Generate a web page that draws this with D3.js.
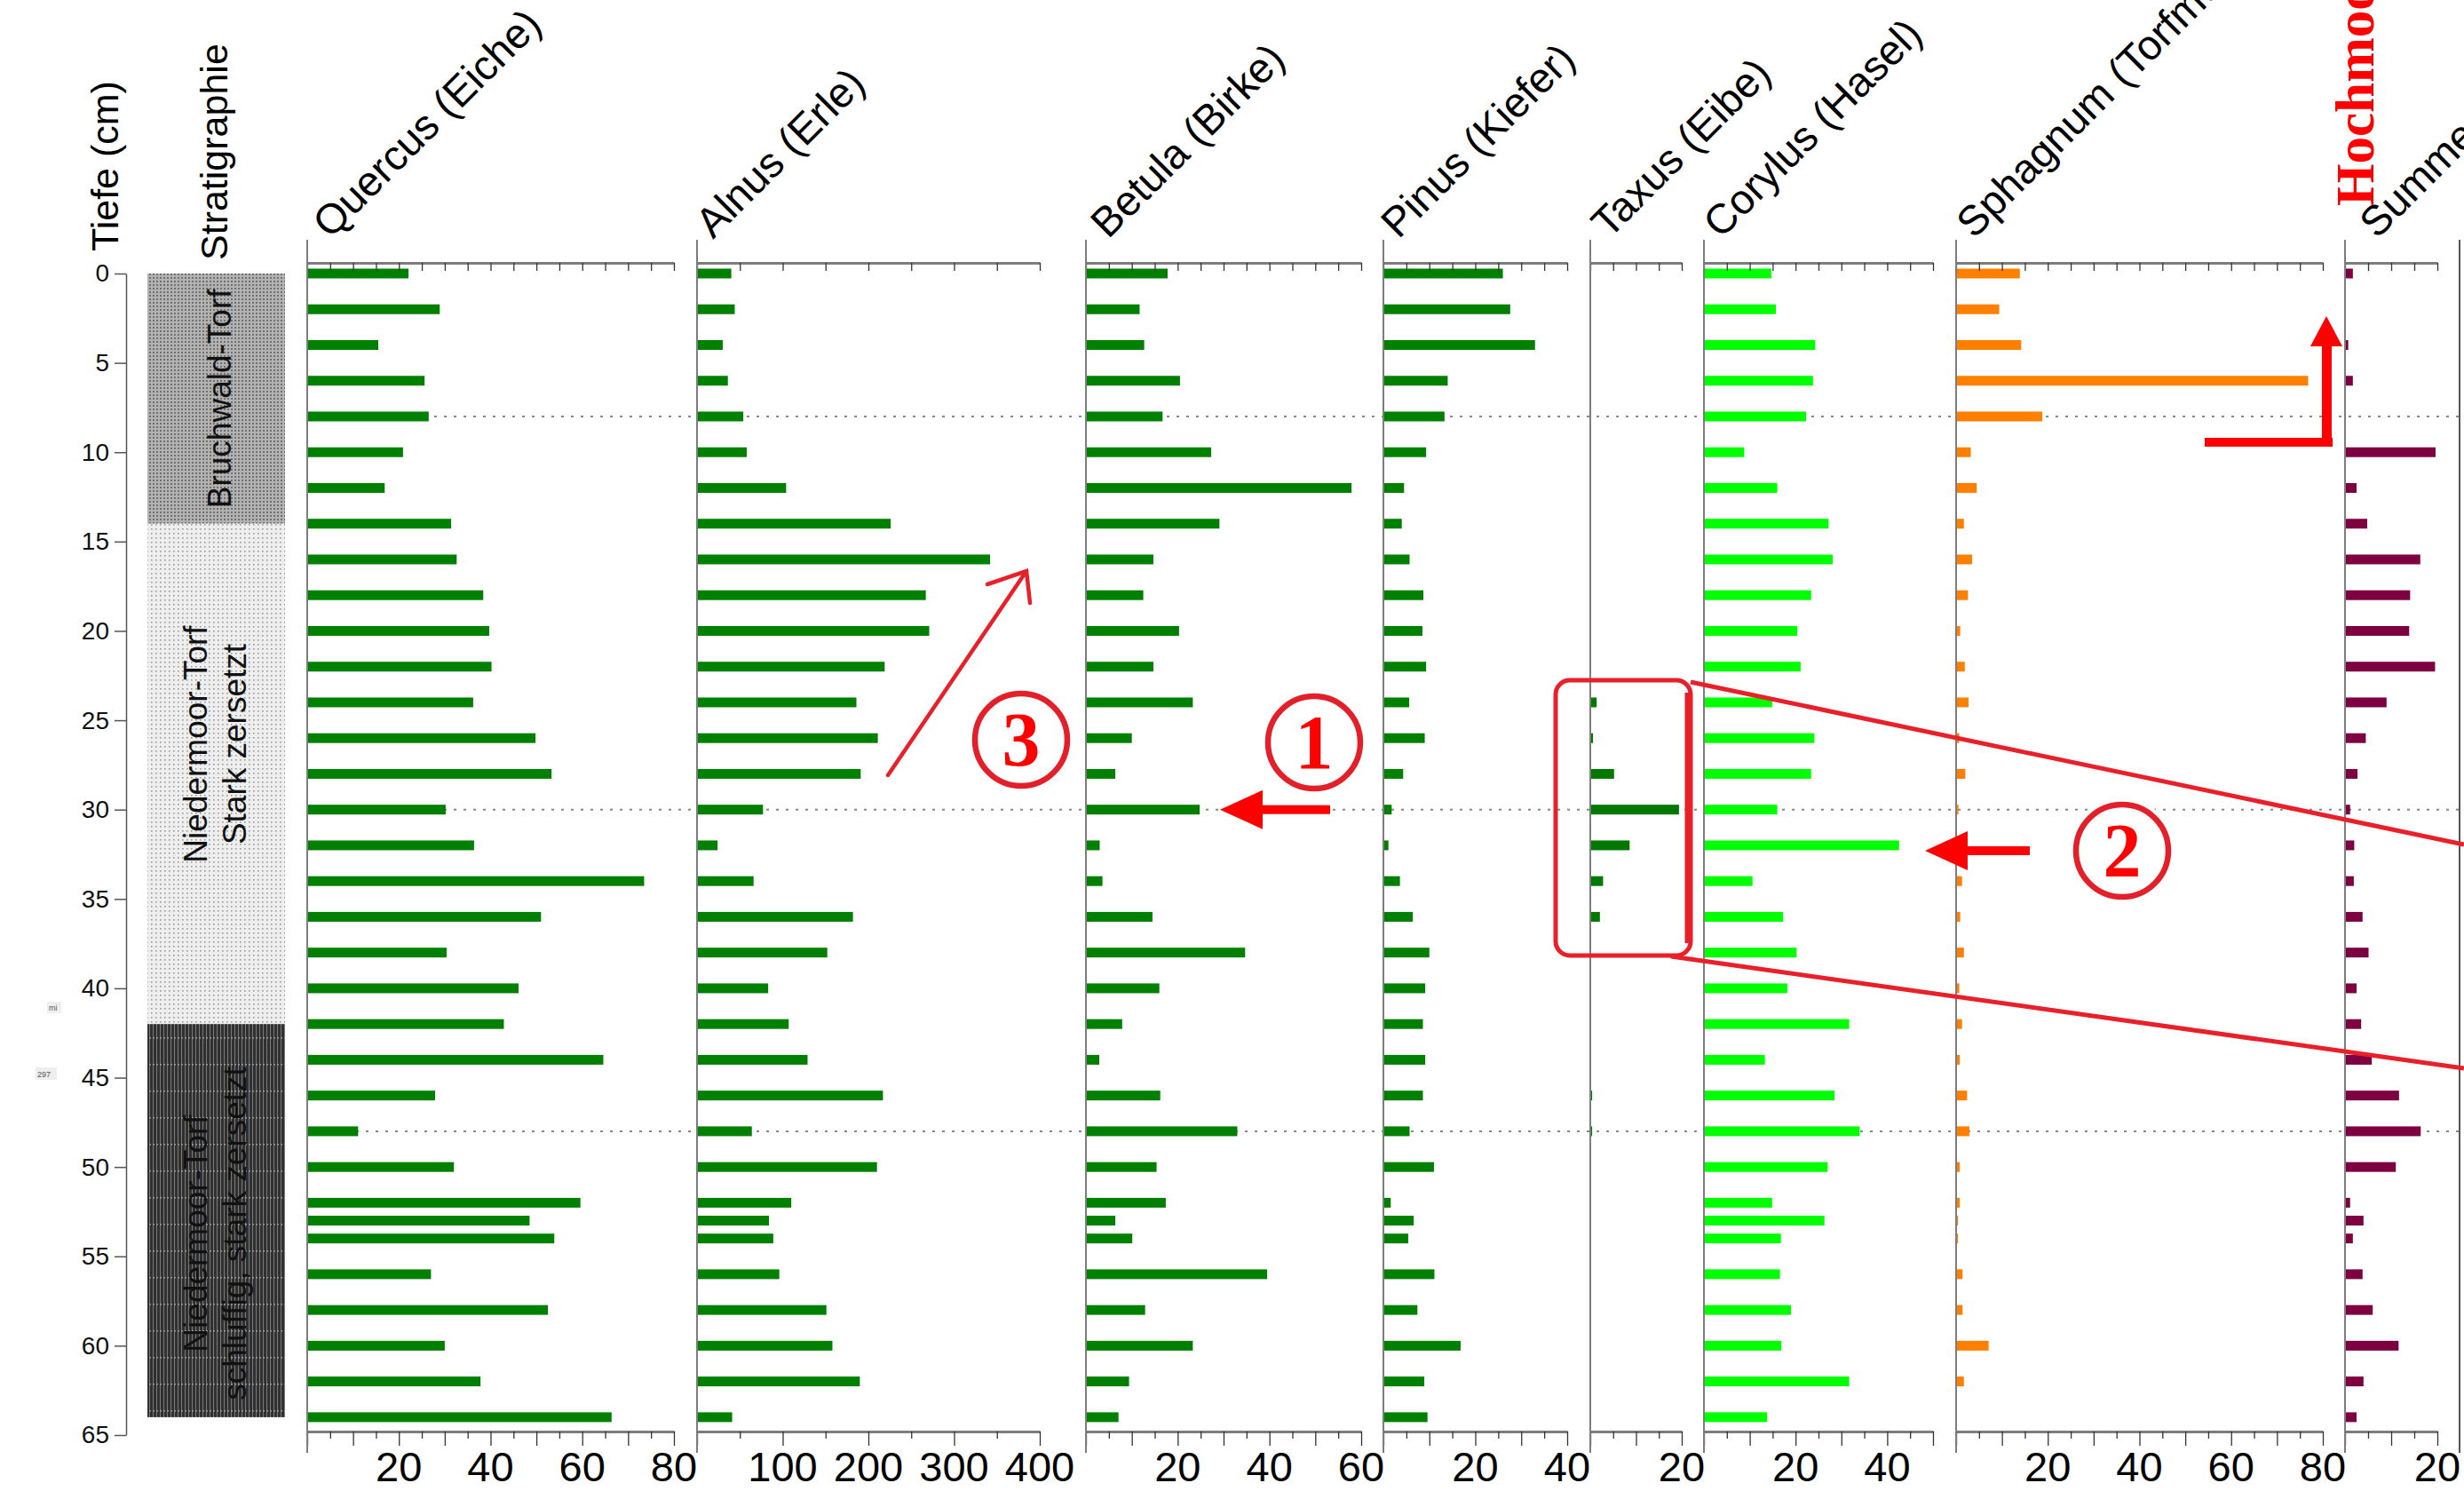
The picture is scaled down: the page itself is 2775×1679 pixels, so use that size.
<!DOCTYPE html>
<html>
<head>
<meta charset="utf-8">
<script src="https://cdn.jsdelivr.net/npm/d3@7"></script>
<style>
  body { margin: 0; background: #fff; }
  text { font-family: "Liberation Sans", Arial, sans-serif; }
</style>
</head>
<body>
<script>
const width = 2775;
const height = 1679;

// Probentiefen (cm)
const depths = [0, 2, 4, 6, 8, 10, 12, 14, 16, 18, 20, 22, 24, 26, 28, 30, 32, 34, 36, 38,
  40, 42, 44, 46, 48, 50, 52, 53, 54, 56, 58, 60, 62, 64];

// Pollenwerte je Taxon, in der Reihenfolge der Tiefen
const quercus = [22.1, 28.9, 15.5, 25.6, 26.5, 20.9, 16.9, 31.4, 32.6, 38.4, 39.7, 40.2, 36.2, 49.8, 53.3,
  30.2, 36.4, 73.5, 51.0, 30.4, 46.1, 42.9, 64.6, 27.9, 11.1, 32.0, 59.6, 48.5, 53.9, 27.0, 52.5, 30.0, 37.8, 66.4];
const alnus = [40, 44, 30, 36, 54, 58, 104, 226, 342, 267, 271, 219, 186, 211, 191,
  77, 24, 66, 182, 152, 83, 107, 129, 217, 64, 210, 110, 84, 89, 96, 151, 158, 190, 41];
const betula = [17.8, 11.7, 12.7, 20.5, 16.7, 27.3, 57.9, 29.1, 14.7, 12.5, 20.3, 14.7, 23.3, 10.0, 6.4,
  24.8, 3.0, 3.6, 14.5, 34.7, 16.0, 7.9, 2.9, 16.2, 33.0, 15.4, 17.4, 6.4, 10.1, 39.5, 12.9, 23.3, 9.4, 7.1];
const pinus = [26.0, 27.6, 33.0, 14.0, 13.3, 9.3, 4.5, 4.0, 5.7, 8.7, 8.5, 9.3, 5.6, 9.0, 4.3,
  1.8, 1.1, 3.6, 6.4, 10.0, 9.1, 8.6, 9.1, 8.6, 5.7, 11.0, 1.6, 6.6, 5.4, 11.1, 7.4, 16.8, 8.9, 9.6];
const taxus = [0, 0, 0, 0, 0, 0, 0, 0, 0, 0, 0, 0, 1.4, 0.6, 5.2,
  19.4, 8.6, 2.8, 2.1, 0, 0, 0, 0, 0.4, 0.4, 0, 0, 0, 0, 0, 0, 0, 0, 0];
const corylus = [14.7, 15.7, 24.3, 23.8, 22.3, 8.8, 16.0, 27.2, 28.1, 23.4, 20.4, 21.1, 14.9, 24.1, 23.4,
  16.0, 42.6, 10.6, 17.3, 20.2, 18.2, 31.7, 13.3, 28.5, 34.0, 27.0, 14.9, 26.3, 16.8, 16.6, 19.0, 16.9, 31.7, 13.8];
const sphagnum = [13.9, 9.4, 14.2, 76.8, 18.8, 3.2, 4.5, 1.7, 3.5, 2.6, 0.9, 1.9, 2.7, 0.7, 2.0,
  0.5, 0.8, 1.3, 0.9, 1.7, 0.7, 1.3, 0.8, 2.4, 2.9, 0.8, 0.8, 0.4, 0.4, 1.4, 1.4, 7.1, 1.7, 0];
const summe = [1.7, 0, 0.7, 1.7, 0, 19.6, 2.5, 4.8, 16.3, 14.1, 13.9, 19.5, 9.0, 4.5, 2.7,
  1.1, 2.0, 1.9, 3.8, 5.1, 2.5, 3.5, 5.8, 11.7, 16.4, 11.0, 1.1, 4.0, 1.7, 3.8, 6.0, 11.6, 4.0, 2.5];

const taxaNames = ["Quercus (Eiche)", "Alnus (Erle)", "Betula (Birke)", "Pinus (Kiefer)",
  "Taxus (Eibe)", "Corylus (Hasel)", "Sphagnum (Torfmoos)", "Summe"];
const axisMax = [80, 400, 60, 40, 20, 50, 80, 20];
const tickStep = [5, 50, 5, 5, 5, 5, 5, 5];
const bottomLabels = [[20, 40, 60, 80], [100, 200, 300, 400], [20, 40, 60], [20, 40], [20], [20, 40], [20, 40, 60, 80], [20]];

// Tiefenachse und Stratigraphie
const depthTicks = [0, 5, 10, 15, 20, 25, 30, 35, 40, 45, 50, 55, 60, 65];
const strataTop = [0, 14, 42];
const strataBottom = [14, 42, 64];
const strataLines = [["Bruchwald-Torf"], ["Niedermoor-Torf", "Stark zersetzt"], ["Niedermoor-Torf", "schluffig, stark zersetzt"]];
const markerDepths = [8, 30, 48];

// Layout (Pixel)
const panelX0 = [346, 785, 1223, 1558, 1791, 1919, 2203, 2641];
const panelX1 = [759, 1171, 1533, 1765, 1894, 2177, 2616, 2745];
const titleOffset = [26, 18, 25, 17, 21, 19, 20, 36];
const barColors = ['#008000', '#008000', '#008000', '#008000', '#007800', '#00ff00', '#ff8000', '#7d0041'];
const series = [quercus, alnus, betula, pinus, taxus, corylus, sphagnum, summe];

const topAxisY = 296;
const bottomAxisY = 1612;
const barH = 11;

let svg = d3.select('body')
    .append('svg')
    .attr('width', width)
    .attr('height', height);

svg.append('rect').attr('width', width).attr('height', height).attr('fill', '#fff');

let yScale = d3.scaleLinear()
    .domain([0, 65])
    .range([308, 1616]);

// Schraffuren
const defs = svg.append('defs');
let p1 = defs.append('pattern').attr('id', 'pat0').attr('width', 4).attr('height', 4).attr('patternUnits', 'userSpaceOnUse');
p1.append('rect').attr('width', 4).attr('height', 4).attr('fill', '#b2b2b2');
p1.append('rect').attr('width', 2).attr('height', 2).attr('fill', '#707070');
let p2 = defs.append('pattern').attr('id', 'pat1').attr('width', 5).attr('height', 5).attr('patternUnits', 'userSpaceOnUse');
p2.append('rect').attr('width', 5).attr('height', 5).attr('fill', '#eeeeee');
p2.append('rect').attr('width', 1.6).attr('height', 1.6).attr('fill', '#9a9a9a');
let p3 = defs.append('pattern').attr('id', 'pat2').attr('width', 4).attr('height', 30).attr('patternUnits', 'userSpaceOnUse');
p3.append('rect').attr('width', 4).attr('height', 30).attr('fill', '#303030');
p3.append('rect').attr('width', 1).attr('height', 30).attr('fill', '#7a7a7a');
p3.append('rect').attr('y', 28).attr('width', 2).attr('height', 1.5).attr('fill', '#9a9a9a');

// gestrichelte Markierungslinien (hinter den Balken)
svg.append('g')
    .selectAll('line')
    .data(markerDepths)
    .join('line')
    .attr('x1', panelX0[0])
    .attr('x2', width)
    .attr('y1', d => yScale(d))
    .attr('y2', d => yScale(d))
    .attr('stroke', '#888')
    .attr('stroke-width', 2)
    .attr('stroke-dasharray', '3,8');

// Tiefenachse
svg.append('g')
    .attr('transform', 'translate(142,0)')
    .call(d3.axisLeft(yScale).tickValues(depthTicks).tickSize(13).tickSizeOuter(0).tickPadding(6))
    .call(g => g.selectAll('text').attr('font-size', 28).attr('fill', '#111').style('font-family', '"Liberation Sans", Arial, sans-serif'))
    .call(g => g.selectAll('line, path').attr('stroke', '#555').attr('stroke-width', 1.5));

svg.append('text')
    .attr('transform', 'translate(133,283) rotate(-90)')
    .attr('font-size', 43)
    .text('Tiefe (cm)');
svg.append('text')
    .attr('transform', 'translate(256,293) rotate(-90)')
    .attr('font-size', 43)
    .text('Stratigraphie');

// Stratigraphie-Säule
let strat = svg.append('g');
strataTop.forEach((top, i) => {
    strat.append('rect')
        .attr('x', 166)
        .attr('y', yScale(top))
        .attr('width', 155)
        .attr('height', yScale(strataBottom[i]) - yScale(top))
        .attr('fill', `url(#pat${i})`);
    let mid = (yScale(top) + yScale(strataBottom[i])) / 2;
    let lines = strataLines[i];
    let xs = lines.length === 1 ? [260] : [233, 277];
    let cy = i === 1 ? 838 : (i === 2 ? 1389 : mid);
    lines.forEach((t, j) => {
        strat.append('text')
            .attr('transform', `translate(${xs[j]},${cy}) rotate(-90)`)
            .attr('text-anchor', 'middle')
            .attr('font-size', 37)
            .attr('fill', '#111')
            .text(t);
    });
});

// Diagramme
taxaNames.forEach((name, i) => {
    let x = d3.scaleLinear().domain([0, axisMax[i]]).range([panelX0[i], panelX1[i]]);
    let g = svg.append('g').classed('panel', true);
    let ticks = d3.range(0, axisMax[i] + 1e-9, tickStep[i]);

    g.selectAll('rect.bar')
        .data(depths.map((d, k) => ({d: d, v: series[i][k]})).filter(o => o.v > 0))
        .join('rect')
        .classed('bar', true)
        .attr('x', x(0))
        .attr('y', o => yScale(o.d) - barH / 2)
        .attr('width', o => x(o.v) - x(0))
        .attr('height', barH)
        .attr('fill', barColors[i]);

    // obere Achse
    g.append('g')
        .attr('transform', `translate(0,${topAxisY})`)
        .call(d3.axisBottom(x).tickValues(ticks).tickSize(9).tickSizeOuter(0).tickFormat(''))
        .call(a => a.select('.domain').attr('stroke', '#7d7d7d').attr('stroke-width', 3))
        .call(a => a.selectAll('.tick line').attr('stroke', '#333').attr('stroke-width', 1.3));

    // untere Achse
    let major = i === 1 ? 100 : 10;
    g.append('g')
        .attr('transform', `translate(0,${bottomAxisY})`)
        .call(d3.axisBottom(x).tickValues(ticks).tickSize(8).tickSizeOuter(0).tickFormat(''))
        .call(a => a.select('.domain').attr('stroke', '#7d7d7d').attr('stroke-width', 3))
        .call(a => a.selectAll('.tick line')
            .attr('stroke', '#333').attr('stroke-width', 1.3)
            .attr('y2', d => (d % major === 0 ? 16 : 8)));

    g.selectAll('text.lab')
        .data(bottomLabels[i])
        .join('text')
        .classed('lab', true)
        .attr('x', d => x(d))
        .attr('y', 1668)
        .attr('text-anchor', 'middle')
        .attr('font-size', 47)
        .text(d => d);

    // linke Linie des Diagramms
    g.append('line')
        .attr('x1', x(0)).attr('x2', x(0))
        .attr('y1', 270).attr('y2', 1636)
        .attr('stroke', '#7d7d7d').attr('stroke-width', 2);

    g.append('text')
        .attr('transform', `translate(${x(0) + titleOffset[i]},${270}) rotate(-45)`)
        .attr('font-size', 47)
        .text(name);
});

// angeschnittenes Folgediagramm am rechten Rand
svg.append('line')
    .attr('x1', 2770).attr('x2', 2770).attr('y1', 270).attr('y2', 1636)
    .attr('stroke', '#555').attr('stroke-width', 2);

// Hochmoor-Beschriftung
svg.append('text')
    .attr('transform', 'translate(2673,232) rotate(-90)')
    .attr('font-size', 61)
    .attr('font-weight', 'bold')
    .attr('fill', '#ff0000')
    .style('font-family', '"Liberation Serif", "Times New Roman", serif')
    .text('Hochmoor');

// Anmerkungen (rot)
const red = '#ff0000';
const ann = svg.append('g');

function arrowLeft(xTip, xEnd, yy) {
    ann.append('rect').attr('x', xTip + 40).attr('y', yy - 5).attr('width', xEnd - xTip - 40).attr('height', 10).attr('fill', red);
    ann.append('path').attr('d', `M${xTip},${yy} L${xTip + 48},${yy - 22} L${xTip + 48},${yy + 22} Z`).attr('fill', red);
}
arrowLeft(1374, 1498, yScale(30));
arrowLeft(2168, 2286, yScale(32.3));

function circled(cx, cy, label) {
    ann.append('ellipse').attr('cx', cx).attr('cy', cy).attr('rx', 58).attr('ry', 60).attr('fill', '#fff');
    ann.append('circle').attr('cx', cx).attr('cy', cy).attr('r', 52)
        .attr('fill', 'none').attr('stroke', '#e3202a').attr('stroke-width', 6.5);
    ann.append('text')
        .attr('x', cx).attr('y', cy + 29)
        .attr('text-anchor', 'middle')
        .attr('font-size', 86)
        .attr('font-weight', 'bold')
        .attr('fill', red)
        .style('font-family', '"Liberation Serif", "Times New Roman", serif')
        .text(label);
}
circled(1480, 836, '1');
circled(2390, 958, '2');
circled(1150, 833, '3');

// Pfeil 3
ann.append('path')
    .attr('d', 'M1000,873 L1156,643 M1112,658 L1156,643 L1160,679')
    .attr('fill', 'none').attr('stroke', '#e8202a').attr('stroke-width', 4.5).attr('stroke-linecap', 'round');

// Rahmen um Taxus
ann.append('rect')
    .attr('x', 1752).attr('y', 766).attr('width', 152).attr('height', 310).attr('rx', 16)
    .attr('fill', 'none').attr('stroke', '#e8202a').attr('stroke-width', 5);
ann.append('line').attr('x1', 1900).attr('y1', 780).attr('x2', 1900).attr('y2', 1062)
    .attr('stroke', '#e8202a').attr('stroke-width', 5);
ann.append('line').attr('x1', 1904).attr('y1', 768).attr('x2', 2775).attr('y2', 951)
    .attr('stroke', '#e8202a').attr('stroke-width', 5);
ann.append('line').attr('x1', 1882).attr('y1', 1077).attr('x2', 2775).attr('y2', 1203)
    .attr('stroke', '#e8202a').attr('stroke-width', 5);

// Winkelpfeil
ann.append('rect').attr('x', 2483).attr('y', 493).attr('width', 144).attr('height', 10).attr('fill', red);
ann.append('rect').attr('x', 2615).attr('y', 385).attr('width', 11).attr('height', 118).attr('fill', red);
ann.append('path').attr('d', 'M2620,356 L2638,390 L2602,390 Z').attr('fill', red);

// kleine Randmarken
svg.append('rect').attr('x', 53).attr('y', 1128).attr('width', 16).attr('height', 13).attr('fill', '#eee');
svg.append('text').attr('x', 55).attr('y', 1138).attr('font-size', 9).attr('fill', '#555').text('mi');
svg.append('rect').attr('x', 40).attr('y', 1202).attr('width', 24).attr('height', 14).attr('fill', '#eee');
svg.append('text').attr('x', 42).attr('y', 1213).attr('font-size', 9).attr('fill', '#555').text('297');
</script>
</body>
</html>
